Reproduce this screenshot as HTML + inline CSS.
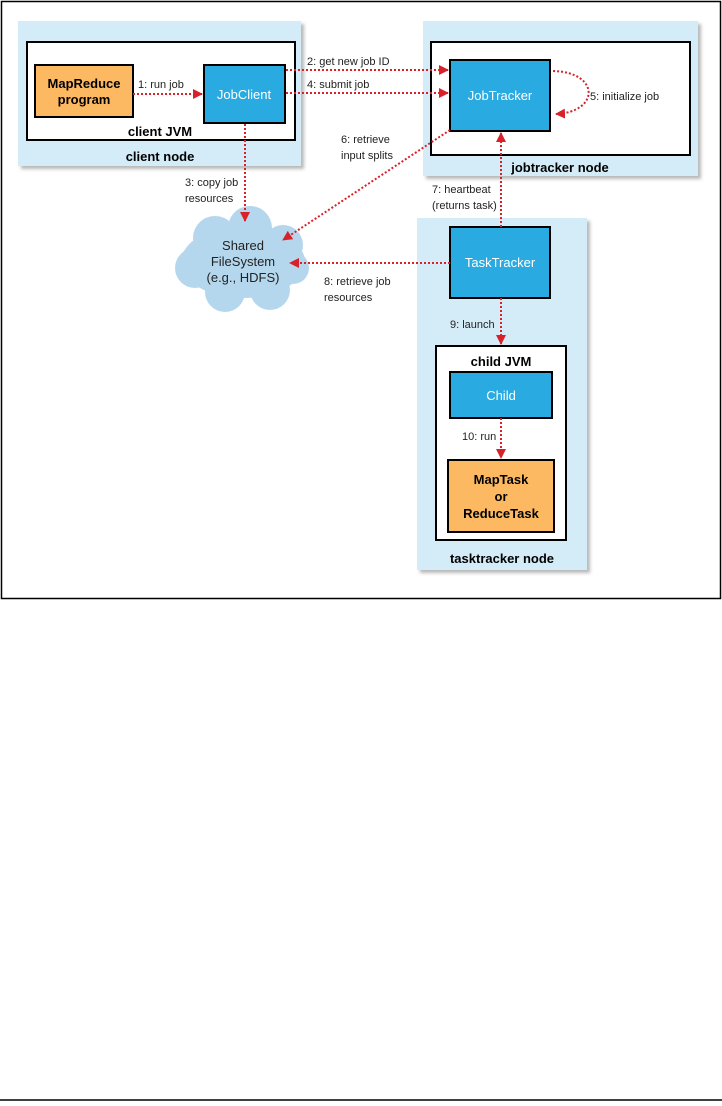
<!DOCTYPE html>
<html><head><meta charset="utf-8"><style>
body{margin:0;width:722px;height:1106px;background:#fff;position:relative;font-family:"Liberation Sans",sans-serif;}
</style></head><body>
<svg width="722" height="1106" xmlns="http://www.w3.org/2000/svg" style="position:absolute;left:0;top:0" font-family="Liberation Sans, sans-serif">
<defs>
<marker id="a" viewBox="0 0 10 10" refX="9" refY="5" markerWidth="5" markerHeight="5" orient="auto"><path d="M0,0 L10,5 L0,10 z" fill="#d9212a"/></marker>
<filter id="s" x="-5%" y="-5%" width="115%" height="115%"><feDropShadow dx="3" dy="3" stdDeviation="1.5" flood-color="#888" flood-opacity="0.6"/></filter>
</defs>
<rect x="1.5" y="1.5" width="719" height="597" fill="none" stroke="#000" stroke-width="1.5"/>
<line x1="0" y1="1100" x2="722" y2="1100" stroke="#000" stroke-width="1.5"/>
<!-- nodes -->
<rect x="18" y="21" width="283" height="145" fill="#d4ecf7" filter="url(#s)"/>
<rect x="423" y="21" width="275" height="155" fill="#d4ecf7" filter="url(#s)"/>
<rect x="417" y="218" width="170" height="352" fill="#d4ecf7" filter="url(#s)"/>
<rect x="27" y="42" width="268" height="98" fill="#fff" stroke="#000" stroke-width="2"/>
<rect x="431" y="42" width="259" height="113" fill="#fff" stroke="#000" stroke-width="2"/>
<rect x="436" y="346" width="130" height="194" fill="#fff" stroke="#000" stroke-width="2"/>
<rect x="35" y="65" width="98" height="52" fill="#fdb962" stroke="#000" stroke-width="2"/>
<rect x="204" y="65" width="81" height="58" fill="#29abe2" stroke="#000" stroke-width="2"/>
<rect x="450" y="60" width="100" height="71" fill="#29abe2" stroke="#000" stroke-width="2"/>
<rect x="450" y="227" width="100" height="71" fill="#29abe2" stroke="#000" stroke-width="2"/>
<rect x="450" y="372" width="102" height="46" fill="#29abe2" stroke="#000" stroke-width="2"/>
<rect x="448" y="460" width="106" height="72" fill="#fdb962" stroke="#000" stroke-width="2"/>
<!-- cloud -->
<g fill="#b5d7ee">
<ellipse cx="243" cy="262" rx="62" ry="36"/>
<circle cx="215" cy="238" r="22"/><circle cx="250" cy="228" r="22"/><circle cx="283" cy="245" r="20"/>
<circle cx="195" cy="268" r="20"/><circle cx="225" cy="292" r="20"/><circle cx="270" cy="290" r="20"/><circle cx="293" cy="268" r="16"/>
</g>
<!-- arrows -->
<g stroke="#d9212a" stroke-width="2" stroke-dasharray="2,2" fill="none" marker-end="url(#a)">
<line x1="133" y1="94" x2="202" y2="94"/>
<line x1="286" y1="70" x2="448" y2="70"/>
<line x1="286" y1="93" x2="448" y2="93"/>
<line x1="245" y1="124" x2="245" y2="221"/>
<line x1="450" y1="130" x2="283" y2="240"/>
<line x1="501" y1="227" x2="501" y2="133"/>
<line x1="450" y1="263" x2="290" y2="263"/>
<line x1="501" y1="298" x2="501" y2="344"/>
<line x1="501" y1="418" x2="501" y2="458"/>
<path d="M553,71 C600,72 600,112 556,114"/>
</g>
<!-- text -->
<g font-size="11" fill="#222">
<text x="138" y="88">1: run job</text>
<text x="307" y="65">2: get new job ID</text>
<text x="307" y="88">4: submit job</text>
<text x="590" y="100">5: initialize job</text>
<text x="341" y="143">6: retrieve</text><text x="341" y="159">input splits</text>
<text x="185" y="186">3: copy job</text><text x="185" y="202">resources</text>
<text x="432" y="193">7: heartbeat</text><text x="432" y="209">(returns task)</text>
<text x="324" y="285">8: retrieve job</text><text x="324" y="301">resources</text>
<text x="450" y="328">9: launch</text>
<text x="462" y="440">10: run</text>
</g>
<g fill="#fff" font-size="13" text-anchor="middle">
<text x="244" y="99">JobClient</text>
<text x="500" y="100">JobTracker</text>
<text x="500" y="267">TaskTracker</text>
<text x="501" y="400">Child</text>
</g>
<g font-size="13" text-anchor="middle" fill="#222">
<text x="243" y="250">Shared</text><text x="243" y="266">FileSystem</text><text x="243" y="282">(e.g., HDFS)</text>
</g>
<g font-weight="bold" font-size="13" text-anchor="middle" fill="#000">
<text x="84" y="88">MapReduce</text><text x="84" y="104">program</text>
<text x="160" y="136">client JVM</text>
<text x="160" y="161">client node</text>
<text x="560" y="172">jobtracker node</text>
<text x="501" y="366">child JVM</text>
<text x="501" y="484">MapTask</text><text x="501" y="501">or</text><text x="501" y="518">ReduceTask</text>
<text x="502" y="563">tasktracker node</text>
</g>
</svg>
</body></html>
